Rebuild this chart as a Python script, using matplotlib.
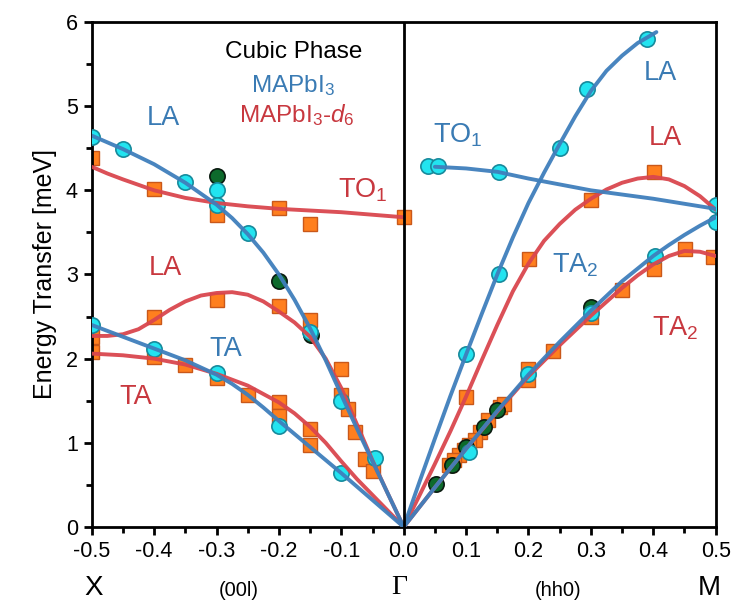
import matplotlib
matplotlib.use("Agg")
import matplotlib.pyplot as plt
from matplotlib.ticker import MultipleLocator

plt.rcParams["font.family"] = ["Liberation Sans", "DejaVu Sans"]
plt.rcParams["mathtext.fontset"] = "custom"
plt.rcParams["mathtext.rm"] = "Liberation Sans"
plt.rcParams["mathtext.it"] = "Liberation Sans:italic"

BLUE = "#3f7fbc"
RED = "#d9464e"
BLUE_TXT = "#3a7bb4"
RED_TXT = "#c8383f"

# --- measured points, (00l) branch (negative q) and (hh0) branch (positive q) ---
# MAPbI3, cyan circles
cyan_q = [-0.5, -0.45, -0.35, -0.3, -0.3, -0.25, -0.15, -0.1, -0.046,
          -0.5, -0.4, -0.3, -0.2, -0.1,
          0.039, 0.055, 0.152, 0.1, 0.152, 0.251, 0.293, 0.39,
          0.104, 0.2, 0.3, 0.403, 0.5, 0.5]
cyan_e = [4.63, 4.49, 4.10, 4.00, 3.83, 3.49, 2.32, 1.50, 0.82,
          2.40, 2.11, 1.83, 1.20, 0.64,
          4.29, 4.29, 4.22, 2.05, 3.00, 4.50, 5.20, 5.80,
          0.89, 1.82, 2.54, 3.22, 3.82, 3.62]

# MAPbI3, dark green circles
green_q = [-0.3, -0.2, -0.148, 0.052, 0.078, 0.10, 0.128, 0.15, 0.30]
green_e = [4.17, 2.92, 2.28, 0.51, 0.74, 0.95, 1.19, 1.39, 2.61]

# MAPbI3-d6, orange squares
orange_q = [-0.5, -0.4, -0.3, -0.2, -0.15, 0.0,
            -0.5, -0.4, -0.3, -0.2, -0.15,
            -0.5, -0.4, -0.35, -0.3, -0.25, -0.2, -0.2, -0.15, -0.15,
            -0.1, -0.1, -0.09, -0.078, -0.062, -0.05,
            0.401, 0.30, 0.201, 0.10, 0.451, 0.496, 0.401, 0.35,
            0.2, 0.2, 0.24, 0.30, 0.155, 0.16, 0.135, 0.123, 0.115,
            0.105, 0.096, 0.088, 0.08, 0.072]
orange_e = [4.38, 4.02, 3.71, 3.79, 3.60, 3.68,
            2.26, 2.50, 2.70, 2.62, 2.46,
            2.08, 2.02, 1.92, 1.77, 1.57, 1.49, 1.32, 1.16, 0.98,
            1.88, 1.57, 1.40, 1.13, 0.81, 0.66,
            4.22, 3.88, 3.18, 1.55, 3.30, 3.21, 3.07, 2.81,
            1.88, 1.75, 2.09, 2.50, 1.43, 1.46, 1.27, 1.13, 1.03,
            0.98, 0.92, 0.86, 0.80, 0.74]

# --- dispersion fits ---
la_b_l_q = [-0.5, -0.45, -0.4, -0.35, -0.3, -0.275, -0.25, -0.225, -0.2, -0.175,
            -0.15, -0.125, -0.1, -0.075, -0.05, -0.025, 0.0]
la_b_l_e = [4.65, 4.49, 4.31, 4.09, 3.83, 3.67, 3.48, 3.26, 3.00, 2.70,
            2.36, 1.98, 1.57, 1.17, 0.78, 0.39, 0.0]

ta_b_l_q = [-0.5, -0.45, -0.4, -0.35, -0.3, -0.275, -0.25, -0.225, -0.2, -0.15,
            -0.1, -0.05, 0.0]
ta_b_l_e = [2.40, 2.26, 2.12, 1.98, 1.81, 1.70, 1.57, 1.42, 1.26, 0.95,
            0.64, 0.32, 0.0]

to_r_l_q = [-0.5, -0.475, -0.45, -0.4, -0.35, -0.3, -0.25, -0.2, -0.15, -0.1, -0.05, 0.0]
to_r_l_e = [4.28, 4.20, 4.13, 4.00, 3.91, 3.85, 3.81, 3.78, 3.76, 3.74, 3.71, 3.68]

la_r_l_q = [-0.5, -0.475, -0.45, -0.425, -0.4, -0.375, -0.35, -0.325, -0.3, -0.275, -0.25,
            -0.225, -0.2, -0.175, -0.15, -0.125, -0.1, -0.075, -0.05, -0.025, 0.0]
la_r_l_e = [2.27, 2.27, 2.29, 2.35, 2.46, 2.58, 2.68, 2.75, 2.78, 2.79, 2.76,
            2.68, 2.56, 2.43, 2.26, 2.00, 1.65, 1.22, 0.79, 0.39, 0.0]

ta_r_l_q = [-0.5, -0.45, -0.4, -0.35, -0.3, -0.25, -0.2, -0.175, -0.15, -0.125,
            -0.1, -0.075, -0.05, -0.025, 0.0]
ta_r_l_e = [2.06, 2.04, 2.00, 1.93, 1.82, 1.68, 1.48, 1.35, 1.19, 1.00,
            0.78, 0.57, 0.38, 0.19, 0.0]

la_b_r_q = [0.0, 0.025, 0.05, 0.075, 0.1, 0.125, 0.15, 0.175, 0.2, 0.225, 0.25,
            0.275, 0.3, 0.325, 0.35, 0.375, 0.405]
la_b_r_e = [0.0, 0.53, 1.05, 1.56, 2.05, 2.53, 3.00, 3.44, 3.85, 4.21, 4.55,
            4.88, 5.18, 5.42, 5.60, 5.75, 5.88]

to_b_r_q = [0.05, 0.1, 0.15, 0.2, 0.25, 0.3, 0.35, 0.4, 0.45, 0.5]
to_b_r_e = [4.28, 4.26, 4.22, 4.14, 4.07, 4.00, 3.95, 3.90, 3.84, 3.78]

ta_b_r_q = [0.0, 0.05, 0.1, 0.15, 0.2, 0.25, 0.3, 0.35, 0.4, 0.425, 0.45, 0.475, 0.5]
ta_b_r_e = [0.0, 0.47, 0.93, 1.38, 1.81, 2.20, 2.57, 2.92, 3.22, 3.35, 3.47, 3.58, 3.68]

la_r_r_q = [0.0, 0.025, 0.05, 0.075, 0.1, 0.125, 0.15, 0.175, 0.2, 0.225, 0.25,
            0.275, 0.3, 0.325, 0.35, 0.375, 0.4, 0.425, 0.45, 0.475, 0.5]
la_r_r_e = [0.0, 0.37, 0.75, 1.14, 1.55, 1.98, 2.40, 2.80, 3.13, 3.40, 3.60,
            3.77, 3.90, 4.01, 4.09, 4.14, 4.16, 4.13, 4.05, 3.93, 3.77]

ta_r_r_q = [0.0, 0.05, 0.1, 0.15, 0.2, 0.25, 0.3, 0.35, 0.375, 0.4, 0.425, 0.45, 0.475, 0.5]
ta_r_r_e = [0.0, 0.47, 0.93, 1.37, 1.79, 2.16, 2.51, 2.84, 2.99, 3.12, 3.22, 3.28, 3.27, 3.22]

fig = plt.figure(figsize=(7.34, 6.11), dpi=100)
ax = fig.add_axes([0.125, 0.1375, 0.85, 0.8265])

ax.plot(orange_q, orange_e, "s", ms=10, mfc="#ff7f1e", mec="#c9581a", mew=1.0, zorder=2)
ax.plot(cyan_q, cyan_e, "o", ms=11, mfc="#22e4f0", mec="#178a9c", mew=1.2, zorder=3)
ax.plot(green_q, green_e, "o", ms=11, mfc="#0d6a2c", mec="#0a1a10", mew=1.2, zorder=2.5)

for q, e in [(to_r_l_q, to_r_l_e), (la_r_l_q, la_r_l_e), (ta_r_l_q, ta_r_l_e),
             (la_r_r_q, la_r_r_e), (ta_r_r_q, ta_r_r_e)]:
    ax.plot(q, e, color=RED, lw=2.8, alpha=0.95, solid_capstyle="round",
            solid_joinstyle="round", zorder=4)
for q, e in [(la_b_l_q, la_b_l_e), (ta_b_l_q, ta_b_l_e), (la_b_r_q, la_b_r_e),
             (to_b_r_q, to_b_r_e), (ta_b_r_q, ta_b_r_e)]:
    ax.plot(q, e, color=BLUE, lw=2.8, alpha=0.95, solid_capstyle="round",
            solid_joinstyle="round", zorder=5)

ax.axvline(0, color="black", lw=2.0, zorder=6)

ax.set_xlim(-0.5, 0.5)
ax.set_ylim(0, 6)
ax.xaxis.set_minor_locator(MultipleLocator(0.05))
ax.yaxis.set_major_locator(MultipleLocator(1))
ax.yaxis.set_minor_locator(MultipleLocator(0.5))
ax.set_xticks([-0.5, -0.4, -0.3, -0.2, -0.1, 0.0, 0.1, 0.2, 0.3, 0.4, 0.5])
ax.set_xticklabels(["-0.5", "-0.4", "-0.3", "-0.2", "-0.1", "0.0", "0.1", "0.2", "0.3", "0.4", "0.5"])
ax.tick_params(which="major", direction="out", length=6, width=2, labelsize=15.5, pad=4,
               top=False, right=False)
ax.tick_params(which="minor", direction="out", length=4, width=2, top=False, right=False)
for s in ax.spines.values():
    s.set_linewidth(2.0)

ax.set_ylabel("Energy Transfer [meV]", fontsize=18, labelpad=6)

# branch labels
ax.text(-0.177, 5.64, "Cubic Phase", fontsize=17.5, color="black", ha="center", va="center")
ax.text(-0.177, 5.25, r"MAPbI$_3$", fontsize=17.5, color=BLUE_TXT, ha="center", va="center")
ax.text(-0.172, 4.90, r"MAPbI$_3$-$d_6$", fontsize=17.5, color=RED_TXT, ha="center", va="center")

ax.text(-0.385, 4.86, "LA", fontsize=19.5, color=BLUE_TXT, ha="center", va="center")
ax.text(-0.066, 4.0, r"TO$_1$", fontsize=19.5, color=RED_TXT, ha="center", va="center")
ax.text(-0.382, 3.08, "LA", fontsize=19.5, color=RED_TXT, ha="center", va="center")
ax.text(-0.286, 2.12, "TA", fontsize=19.5, color=BLUE_TXT, ha="center", va="center")
ax.text(-0.43, 1.55, "TA", fontsize=19.5, color=RED_TXT, ha="center", va="center")

ax.text(0.087, 4.66, r"TO$_1$", fontsize=19.5, color=BLUE_TXT, ha="center", va="center")
ax.text(0.411, 5.39, "LA", fontsize=19.5, color=BLUE_TXT, ha="center", va="center")
ax.text(0.42, 4.62, "LA", fontsize=19.5, color=RED_TXT, ha="center", va="center")
ax.text(0.275, 3.11, r"TA$_2$", fontsize=19.5, color=BLUE_TXT, ha="center", va="center")
ax.text(0.435, 2.36, r"TA$_2$", fontsize=19.5, color=RED_TXT, ha="center", va="center")

# high-symmetry points and directions below the axis
trans = ax.get_xaxis_transform()
ax.text(-0.497, -0.12, "X", fontsize=20, ha="center", va="center", transform=trans)
ax.text(-0.265, -0.125, "(00l)", fontsize=14.5, ha="center", va="center", transform=trans)
ax.text(-0.008, -0.12, "Γ", fontsize=20, family=["Liberation Serif", "DejaVu Serif"],
        ha="center", va="center", transform=trans)
ax.text(0.247, -0.125, "(hh0)", fontsize=14.5, ha="center", va="center", transform=trans)
ax.text(0.49, -0.12, "M", fontsize=20, ha="center", va="center", transform=trans)

fig.savefig("out.png", dpi=100)
